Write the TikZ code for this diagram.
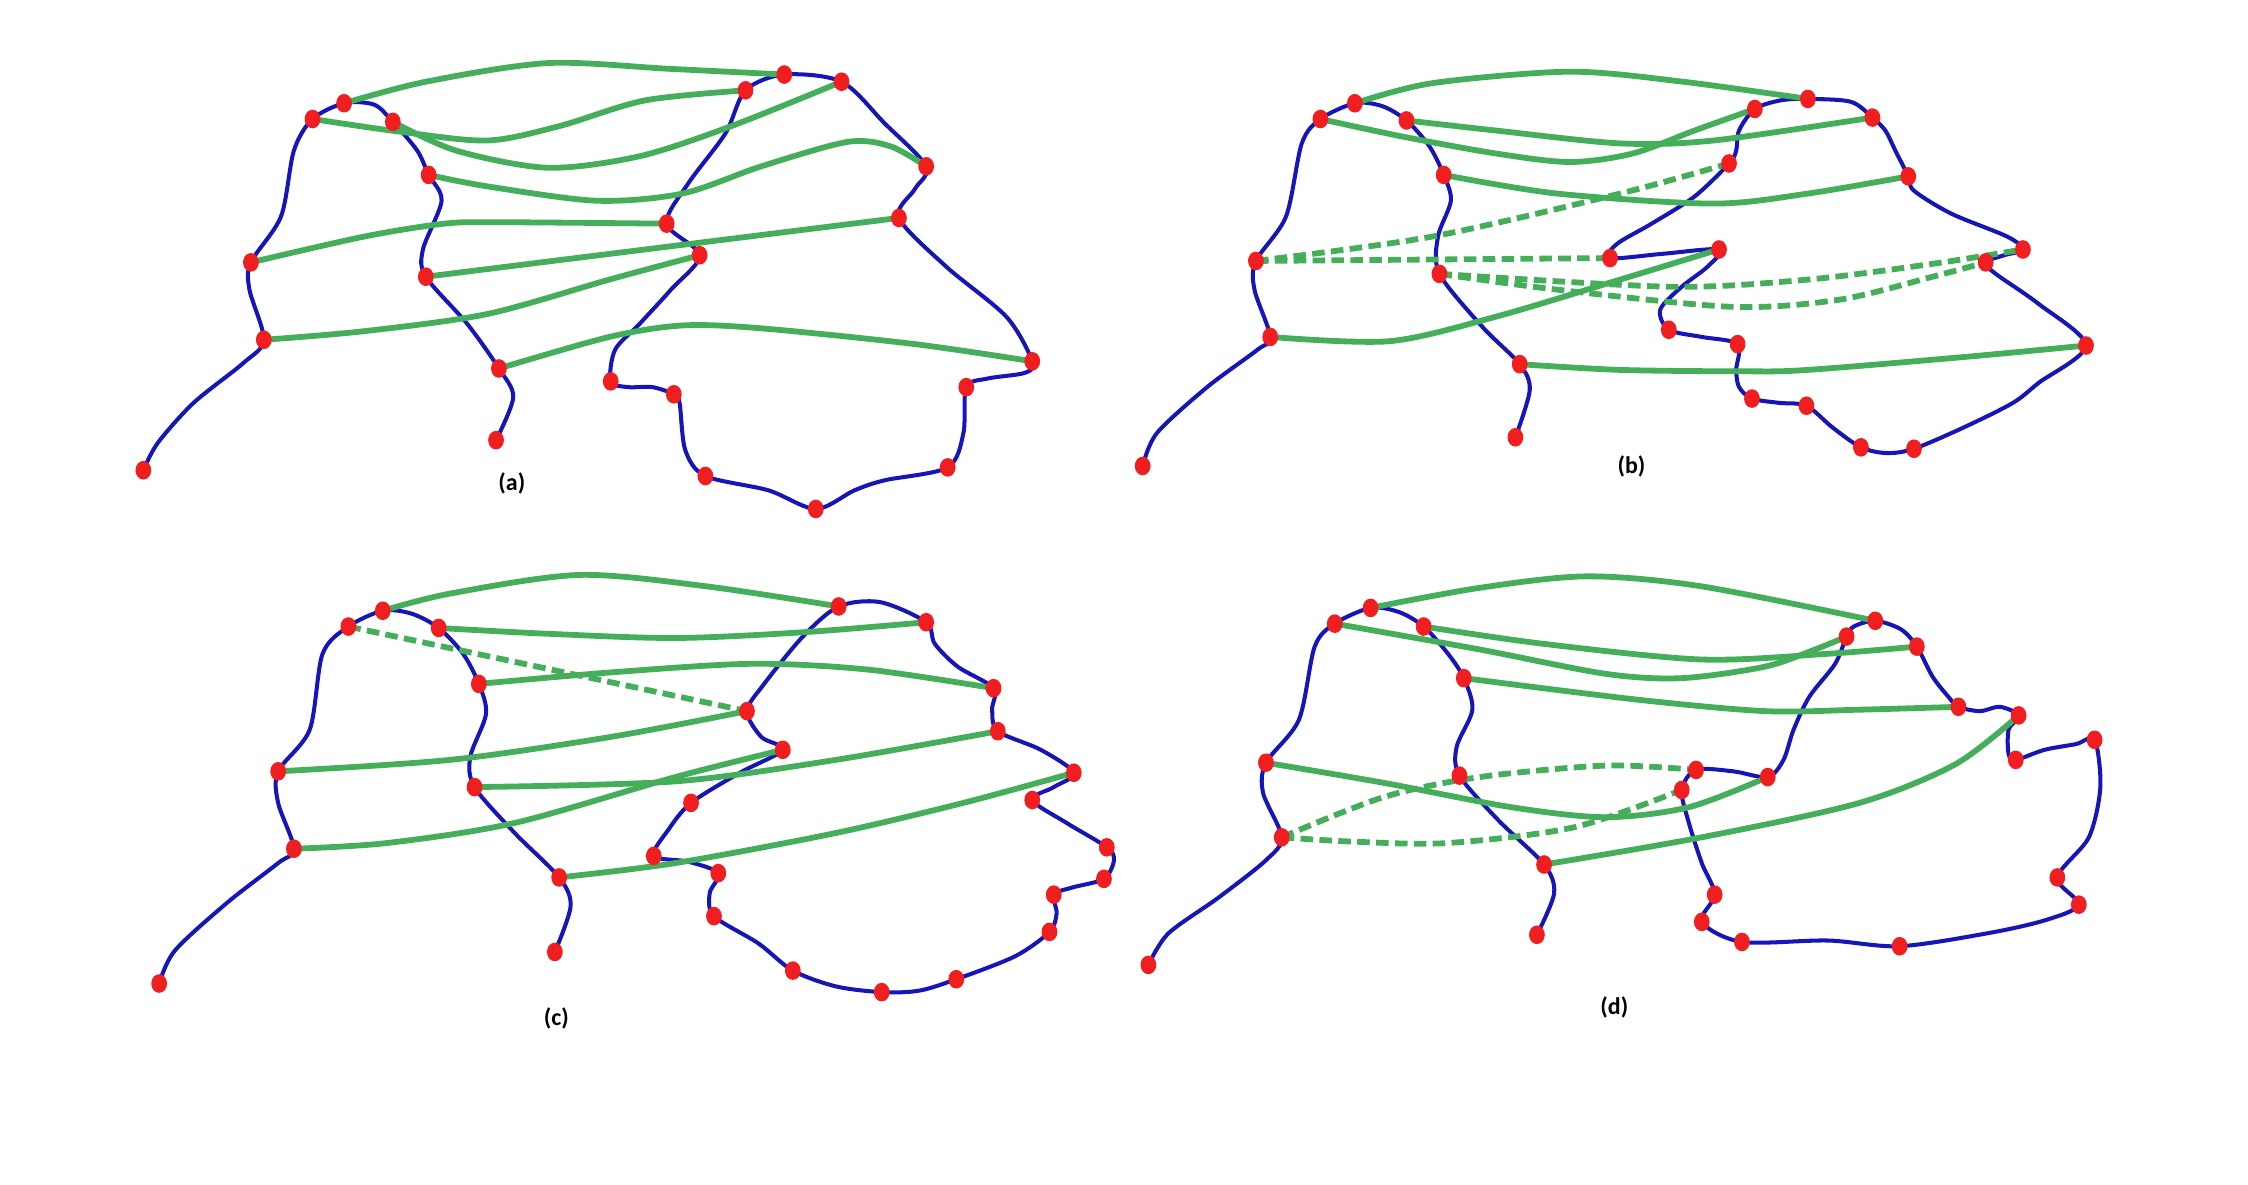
\documentclass[tikz,border=0pt]{standalone}
\usepackage{fontspec}
\setmainfont{Carlito}
\usepackage{xcolor}
\definecolor{curveblue}{HTML}{1515B8}
\definecolor{linkgreen}{HTML}{45AE5A}
\definecolor{dotred}{HTML}{F01E1E}
\usetikzlibrary{shapes.geometric}

\begin{document}
\begin{tikzpicture}[
  x=0.2mm, y=-0.2mm,
  curve/.style={draw=curveblue, line width=1.6pt, line join=round},
  link/.style={draw=linkgreen, line width=2.3pt, line cap=round},
  dlink/.style={link, line cap=butt, dash pattern=on 5pt off 2.5pt},
  dot/.style={ellipse, fill=dotred, inner sep=0pt, minimum width=2.2mm, minimum height=2.6mm},
  tag/.style={font=\bfseries\fontsize{9.5}{11}\selectfont}
]
  \useasboundingbox (0,0) rectangle (1568,826);

  % (a)
  \coordinate (a0) at (100,328);  \coordinate (a1) at (184,237);
  \coordinate (a2) at (175,183);  \coordinate (a3) at (218,83);
  \coordinate (a4) at (240,72);   \coordinate (a5) at (274,85);
  \coordinate (a6) at (299,122);  \coordinate (a7) at (297,193);
  \coordinate (a8) at (348,257);  \coordinate (a9) at (346,307);
  \coordinate (a10) at (426,266); \coordinate (a11) at (488,178);
  \coordinate (a12) at (465,156); \coordinate (a13) at (520,63);
  \coordinate (a14) at (547,52);  \coordinate (a15) at (587,57);
  \coordinate (a16) at (646,116); \coordinate (a17) at (627,152);
  \coordinate (a18) at (720,252); \coordinate (a19) at (674,270);
  \coordinate (a20) at (661,326); \coordinate (a21) at (569,355);
  \coordinate (a22) at (492,332); \coordinate (a23) at (470,275);

  \draw[curve] plot[smooth] coordinates {(a0) (110,309) (135,281) (170,253) (a1)
    (174,202) (a2) (196,151) (205,105) (a3) (a4) (261,73) (a5) (291,105) (a6)
    (308,140) (295,174) (a7) (326,226) (a8) (358,277) (a9)};
  \draw[curve] plot[smooth cycle] coordinates {(a10) (429,244) (446,226) (468,202)
    (a11) (a12) (480,128) (506,93) (a13) (a14) (a15) (617,86) (a16) (638,132)
    (a17) (660,186) (702,221) (a18) (715,260) (689,264) (a19) (672,302) (a20)
    (617,335) (596,342) (a21) (536,342) (a22) (478,314) (474,281) (a23)
    (455,270) (438,270)};

  \draw[link] plot[smooth] coordinates {(a4) (297,57) (382,44) (467,48) (a14)};
  \draw[link] plot[smooth] coordinates {(a3) (280,92) (340,98) (390,88) (450,70) (a13)};
  \draw[link] plot[smooth] coordinates {(a5) (318,105) (382,117) (446,109) (510,88) (a15)};
  \draw[link] plot[smooth] coordinates {(a6) (340,130) (416,140) (476,135) (531,116)
    (591,99) (621,102) (a16)};
  \draw[link] plot[smooth] coordinates {(a2) (254,165) (310,156) (348,155) (a12)};
  \draw[link] (a7) -- (a17);
  \draw[link] plot[smooth] coordinates {(a1) (254,231) (340,219) (425,195) (a11)};
  \draw[link] plot[smooth] coordinates {(a8) (425,235) (476,227) (531,229) (638,240) (a18)};

  % (b)
  \coordinate (b0) at (797,325);   \coordinate (b1) at (886,235);
  \coordinate (b2) at (876,182);   \coordinate (b3) at (921,83);
  \coordinate (b4) at (945,72);    \coordinate (b5) at (981,84);
  \coordinate (b6) at (1007,122);  \coordinate (b7) at (1004,191);
  \coordinate (b8) at (1060,254);  \coordinate (b9) at (1057,305);
  \coordinate (b10) at (1123,180); \coordinate (b11) at (1199,174);
  \coordinate (b12) at (1164,230); \coordinate (b13) at (1212,240);
  \coordinate (b14) at (1222,278); \coordinate (b15) at (1260,283);
  \coordinate (b16) at (1298,312); \coordinate (b17) at (1335,313);
  \coordinate (b18) at (1455,241); \coordinate (b19) at (1385,183);
  \coordinate (b20) at (1411,174); \coordinate (b21) at (1331,123);
  \coordinate (b22) at (1306,82);  \coordinate (b23) at (1261,69);
  \coordinate (b24) at (1224,76);  \coordinate (b25) at (1206,114);

  \draw[curve] plot[smooth] coordinates {(b0) (807,302) (842,270) (877,244) (b1)
    (875,202) (b2) (897,151) (908,100) (b3) (b4) (964,74) (b5) (997,102) (b6)
    (1012,140) (1003,165) (b7) (1034,228) (b8) (1067,272) (b9)};
  \draw[curve] plot[smooth cycle] coordinates {(b10) (1160,177) (b11) (1191,186)
    (1173,200) (1158,216) (b12) (1187,235) (b13) (1211,258) (1213,270) (b14)
    (1241,281) (b15) (1278,298) (b16) (1316,316) (b17) (1370,298) (1404,281)
    (1422,267) (b18) (1422,212) (1392,191) (b19) (1398,178) (b20) (1400,165)
    (1361,149) (1335,133) (b21) (1322,105) (1315,91) (b22) (1291,71) (b23)
    (1242,70) (b24) (1213,91) (1211,105) (b25) (1182,137) (1152,156) (1128,170)};

  \draw[link] plot[smooth] coordinates {(b4) (999,58) (1095,50) (1174,57) (b23)};
  \draw[link] plot[smooth] coordinates {(b3) (977,95) (1043,107) (1095,113) (1139,107)
    (1182,91) (b24)};
  \draw[link] plot[smooth] coordinates {(b5) (1043,91) (1130,100) (1195,98) (b22)};
  \draw[link] plot[smooth] coordinates {(b6) (1086,135) (1195,142) (1261,135) (b21)};
  \draw[link] plot[smooth] coordinates {(b1) (969,238) (1043,221) (1130,195) (b11)};
  \draw[link] plot[smooth] coordinates {(b8) (1130,258) (1217,259) (1261,258)
    (1370,249) (b18)};
  \draw[dlink] plot[smooth] coordinates {(b2) (999,165) (1130,135) (b25)};
  \draw[dlink] (b2) -- (b10);
  \draw[dlink] plot[smooth] coordinates {(b7) (1165,200) (1261,195) (1348,184) (b20)};
  \draw[dlink] plot[smooth] coordinates {(b7) (1086,202) (1208,214) (1283,209)
    (1348,193) (b19)};

  % (c)
  \coordinate (c0) at (111,686);  \coordinate (c1) at (205,592);
  \coordinate (c2) at (194,538);  \coordinate (c3) at (243,437);
  \coordinate (c4) at (267,426);  \coordinate (c5) at (306,438);
  \coordinate (c6) at (334,477);  \coordinate (c7) at (331,549);
  \coordinate (c8) at (390,612);  \coordinate (c9) at (387,664);
  \coordinate (c10) at (585,423); \coordinate (c11) at (646,434);
  \coordinate (c12) at (693,480); \coordinate (c13) at (696,510);
  \coordinate (c14) at (749,539); \coordinate (c15) at (720,558);
  \coordinate (c16) at (772,591); \coordinate (c17) at (770,613);
  \coordinate (c18) at (735,624); \coordinate (c19) at (732,650);
  \coordinate (c20) at (667,683); \coordinate (c21) at (615,692);
  \coordinate (c22) at (553,677); \coordinate (c23) at (498,639);
  \coordinate (c24) at (501,609); \coordinate (c25) at (456,597);
  \coordinate (c26) at (482,560); \coordinate (c27) at (546,523);
  \coordinate (c28) at (521,496);

  \draw[curve] plot[smooth] coordinates {(c0) (122,663) (158,630) (194,602) (c1)
    (194,560) (c2) (216,509) (225,456) (c3) (c4) (287,428) (c5) (323,456) (c6)
    (339,498) (328,528) (c7) (359,581) (c8) (398,632) (c9)};
  \draw[curve] plot[smooth cycle] coordinates {(c10) (614,420) (c11) (652,449)
    (668,465) (c12) (692,495) (c13) (726,523) (c14) (735,549) (c15) (744,574)
    (c16) (777,600) (c17) (748,619) (c18) (737,637) (c19) (708,667) (c20)
    (641,691) (c21) (583,688) (c22) (529,658) (c23) (495,623) (c24) (480,601)
    (c25) (466,579) (c26) (516,539) (c27) (531,514) (c28) (533,477) (560,444)};

  \draw[link] plot[smooth] coordinates {(c4) (314,414) (404,401) (493,409) (c10)};
  \draw[link] plot[smooth] coordinates {(c5) (381,442) (471,445) (560,441) (c11)};
  \draw[dlink] (c3) -- (c28);
  \draw[link] plot[smooth] coordinates {(c6) (426,469) (524,463) (605,467) (c12)};
  \draw[link] plot[smooth] coordinates {(c2) (314,530) (426,514) (c28)};
  \draw[link] plot[smooth] coordinates {(c7) (471,545) (583,530) (c13)};
  \draw[link] plot[smooth] coordinates {(c1) (270,588) (359,574) (471,542) (c27)};
  \draw[link] plot[smooth] coordinates {(c8) (471,602) (583,581) (672,560) (c14)};

  % (d)
  \coordinate (d0) at (801,673);   \coordinate (d1) at (894,584);
  \coordinate (d2) at (883,532);   \coordinate (d3) at (931,435);
  \coordinate (d4) at (956,424);   \coordinate (d5) at (993,437);
  \coordinate (d6) at (1021,473);  \coordinate (d7) at (1018,541);
  \coordinate (d8) at (1077,603);  \coordinate (d9) at (1072,652);
  \coordinate (d10) at (1183,537); \coordinate (d11) at (1233,542);
  \coordinate (d12) at (1288,444); \coordinate (d13) at (1308,433);
  \coordinate (d14) at (1337,451); \coordinate (d15) at (1366,493);
  \coordinate (d16) at (1408,499); \coordinate (d17) at (1406,530);
  \coordinate (d18) at (1461,516); \coordinate (d19) at (1435,612);
  \coordinate (d20) at (1450,631); \coordinate (d21) at (1325,660);
  \coordinate (d22) at (1215,657); \coordinate (d23) at (1187,643);
  \coordinate (d24) at (1196,624); \coordinate (d25) at (1173,551);

  \draw[curve] plot[smooth] coordinates {(d0) (815,651) (850,626) (883,600) (d1)
    (881,553) (d2) (906,502) (917,451) (d3) (d4) (976,427) (d5) (1010,456) (d6)
    (1027,495) (1016,521) (d7) (1045,572) (d8) (1084,623) (d9)};
  \draw[curve] plot[smooth cycle] coordinates {(d10) (1209,538) (d11) (1244,530)
    (1251,509) (1262,486) (1280,463) (d12) (1293,437) (d13) (1326,439) (d14)
    (1348,472) (1359,486) (d15) (1381,496) (1395,493) (d16) (1401,509)
    (1401,526) (d17) (1426,523) (1448,519) (d18) (1465,549) (1457,584) (d19)
    (d20) (1426,642) (1386,651) (d21) (1275,656) (d22) (d23) (d24) (1187,602)
    (1178,574) (d25)};

  \draw[link] plot[smooth] coordinates {(d4) (1032,410) (1107,402) (1187,409) (d13)};
  \draw[link] plot[smooth] coordinates {(d3) (1032,453) (1120,470) (1173,473)
    (1231,465) (1266,453) (d12)};
  \draw[link] plot[smooth] coordinates {(d5) (1076,449) (1187,460) (1275,456) (d14)};
  \draw[link] plot[smooth] coordinates {(d6) (1142,488) (1231,496) (1297,495) (d15)};
  \draw[link] plot[smooth] coordinates {(d2) (965,546) (1054,563) (1120,570)
    (1178,563) (d11)};
  \draw[link] plot[smooth] coordinates {(d8) (1187,584) (1297,560) (1364,533) (d16)};
  \draw[dlink] plot[smooth] coordinates {(d1) (965,556) (1032,542) (1120,534) (d10)};
  \draw[dlink] plot[smooth] coordinates {(d1) (943,587) (1010,588) (1098,577) (d25)};

  % dots and labels
  \foreach \i in {0,...,23} \node[dot] (a\i-dot) at (a\i) {};
  \foreach \i in {0,...,25} \node[dot] (b\i-dot) at (b\i) {};
  \foreach \i in {0,...,28} \node[dot] (c\i-dot) at (c\i) {};
  \foreach \i in {0,...,25} \node[dot] (d\i-dot) at (d\i) {};

  \node[tag] (ta) at (357,337) {(a)};
  \node[tag] (tb) at (1138,325) {(b)};
  \node[tag] (tc) at (388,710) {(c)};
  \node[tag] (td) at (1126,703) {(d)};
\end{tikzpicture}
\end{document}
